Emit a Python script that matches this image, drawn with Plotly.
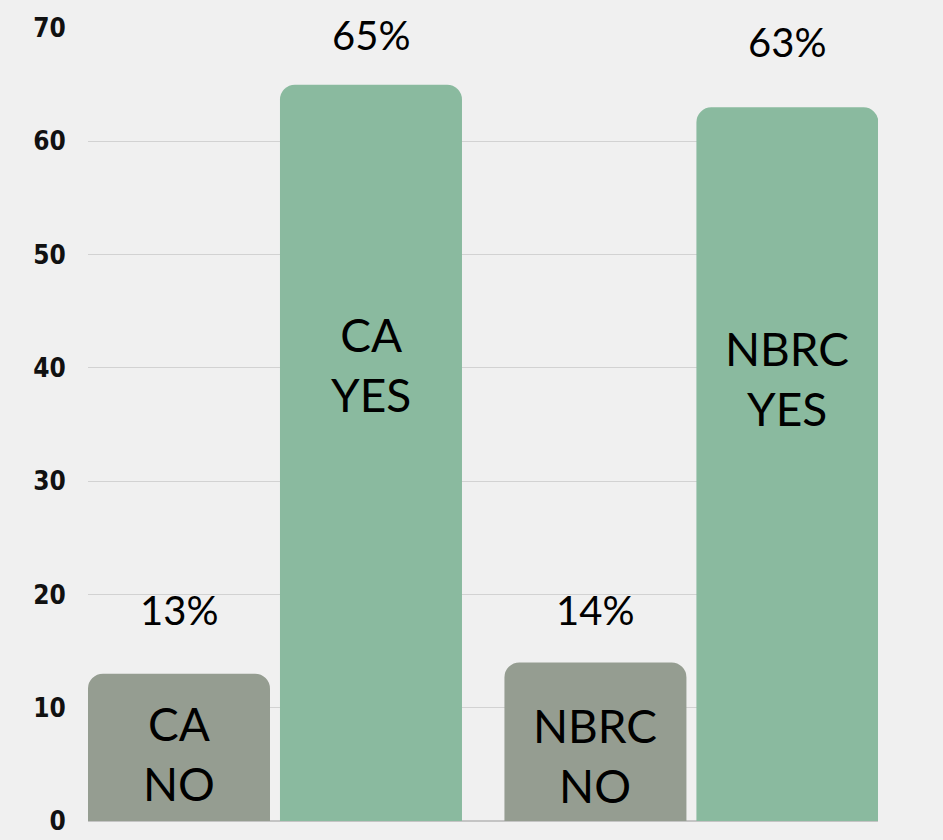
import plotly.graph_objects as go

# ---- data ----
groups = ["CA", "NBRC"]
no_values = [13, 14]
yes_values = [65, 63]
no_names = ["CA<br>NO", "NBRC<br>NO"]
yes_names = ["CA<br>YES", "NBRC<br>YES"]
y_ticks = [0, 10, 20, 30, 40, 50, 60, 70]

# ---- style ----
C_NO = "#959d91"
C_YES = "#8aba9f"
BG = "#f0f0f0"
LABEL_FONT = "Lato"
no_pct_shift = [64, 52]
yes_pct_shift = [50, 65]
no_inner_frac = [0.46, 0.41]
yes_inner_frac = [0.62, 0.62]
slot_px = 96

fig = go.Figure()
fig.add_trace(go.Bar(x=groups, y=no_values, marker=dict(color=C_NO, line=dict(width=0)),
                     name="NO", hoverinfo="skip"))
fig.add_trace(go.Bar(x=groups, y=yes_values, marker=dict(color=C_YES, line=dict(width=0)),
                     name="YES", hoverinfo="skip"))

ann = []
for vals, names, shifts, fracs, xs in [
    (no_values, no_names, no_pct_shift, no_inner_frac, -slot_px),
    (yes_values, yes_names, yes_pct_shift, yes_inner_frac, slot_px),
]:
    for g, v, nm, sh, fr in zip(groups, vals, names, shifts, fracs):
        ann.append(dict(x=g, y=v, xref="x", yref="y", text=f"{v}%", showarrow=False,
                        xshift=xs, yshift=sh, yanchor="middle",
                        font=dict(family=LABEL_FONT, size=40, color="black")))
        ann.append(dict(x=g, y=v * fr, xref="x", yref="y", text=nm, showarrow=False,
                        xshift=xs, yanchor="middle",
                        font=dict(family=LABEL_FONT, size=46, color="black")))

fig.update_layout(
    width=943, height=840,
    margin=dict(l=88, r=65, t=28, b=19, autoexpand=False),
    paper_bgcolor=BG, plot_bgcolor=BG,
    barmode="group", bargap=0.078, bargroupgap=0.052,
    barcornerradius=15,
    showlegend=False,
    annotations=ann,
    xaxis=dict(range=[-0.449, 1.448], showticklabels=False, showgrid=False,
               zeroline=False, showline=False, fixedrange=True, automargin=False),
    yaxis=dict(range=[0, 70], tickvals=y_ticks, showgrid=True, gridcolor="#d2d2d2",
               gridwidth=1, zeroline=True, zerolinecolor="#c4c4c4", zerolinewidth=2,
               ticks="outside", ticklen=16, tickcolor="rgba(0,0,0,0)",
               tickfont=dict(family="DejaVu Sans Condensed, Liberation Sans Narrow, Roboto, sans-serif",
                             size=26, color="#111", weight="bold"),
               showline=False, fixedrange=True, automargin=False),
)

fig.write_html(
    "out.html",
    config={"displayModeBar": False},
    post_script="document.body.style.margin='0';document.body.style.background='#f0f0f0';document.body.style.overflow='hidden';",
)
